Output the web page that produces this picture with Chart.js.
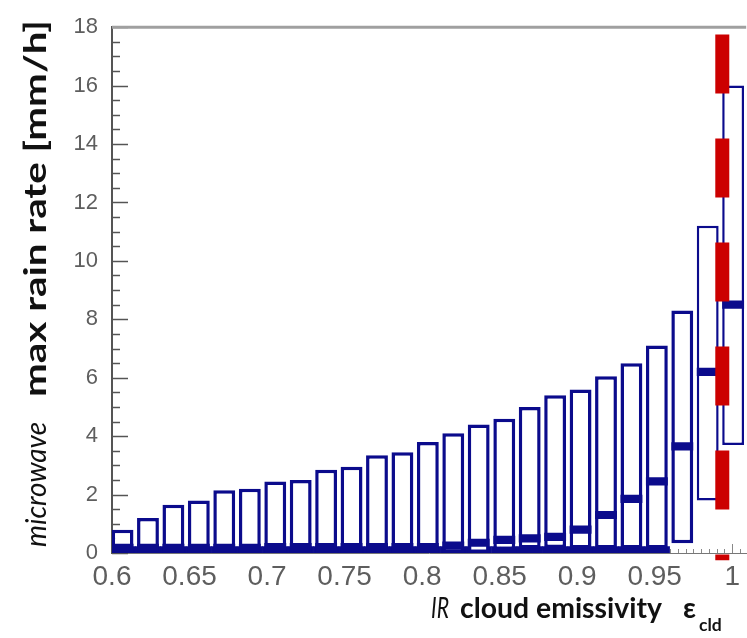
<!DOCTYPE html>
<html>
<head>
<meta charset="utf-8">
<title>max rain rate vs IR cloud emissivity</title>
<script src="https://cdn.jsdelivr.net/npm/chart.js@4.4.1/dist/chart.umd.min.js"></script>
<style>
html,body{margin:0;padding:0;background:#ffffff;overflow:hidden;}
#wrap{position:relative;width:747px;height:638px;}
</style>
</head>
<body>
<div id="wrap"><canvas id="c" width="747" height="638"></canvas></div>
<script>
// ---------- values ----------
const binCenters = [0.6068,0.6232,0.6396,0.6560,0.6724,0.6889,0.7053,0.7217,0.7381,0.7545,
                    0.7709,0.7873,0.8037,0.8201,0.8365,0.8530,0.8694,0.8858,0.9022,0.9186,
                    0.9350,0.9514,0.9678,0.9842,1.0006];
const q1Values     = [0,0,0,0,0,0,0,0,0,0, 0,0,0,0,0,0.10,0.15,0.17,0.15,0.15, 0.15,0.15,0.33,1.8,3.7];
const medianValues = [0.18,0.18,0.18,0.18,0.18,0.18,0.2,0.2,0.2,0.2,
                      0.2,0.2,0.2,0.25,0.35,0.45,0.50,0.55,0.80,1.30,
                      1.85,2.45,3.65,6.2,8.5];
const q3Values     = [0.8,1.2,1.65,1.8,2.15,2.2,2.45,2.5,2.85,2.95,
                      3.35,3.45,3.8,4.1,4.4,4.6,5.0,5.4,5.6,6.05,
                      6.5,7.1,8.3,11.2,16.0];
const lowerWhisker = [0,0,0,0,0,0,0,0,0,0, 0,0,0,0,0,0,0,0,0,0, 0,0,null,null,null];
const xTickValues = [0.6,0.65,0.7,0.75,0.8,0.85,0.9,0.95,1];
const yTickValues = [0,2,4,6,8,10,12,14,16,18];
const thresholdX = 0.9936;
const thresholdSpan = [17.75, -0.25];
const xTitleParts = {italic:'IR', bold:'cloud emissivity', symbol:'ε', sub:'cld'};
const yTitleParts = {italic:'microwave', bold:'max rain rate [mm/h]'};

// ---------- build library tables ----------
const NAVY = '#0b0b8c';
const boxData = binCenters.map((x,i)=>({x:x, y:[q1Values[i], q3Values[i]]}));
const medianHalf = 0.14;
const medianData = binCenters.map((x,i)=>({x:x, y:[Math.max(0, medianValues[i]-medianHalf), medianValues[i]+medianHalf]}));
const capData = [];
binCenters.forEach((x,i)=>{ if(lowerWhisker[i]!==null) capData.push({x:x, y:[lowerWhisker[i], lowerWhisker[i]+0.22]}); });
const thresholdData = thresholdSpan.map(v=>({x:thresholdX, y:v}));

const axisDecor = {
  id:'axisDecor',
  beforeDatasetsDraw(chart){
    const {ctx, chartArea:a, scales:{x,y}} = chart;
    ctx.save();
    ctx.strokeStyle = '#555'; ctx.lineWidth = 1.5;
    for(let i=0;i<=36;i++){
      const py = Math.round(y.getPixelForValue(i*0.5))+0.5;
      const len = (i%4===0) ? 16 : 8;
      ctx.beginPath(); ctx.moveTo(a.left, py); ctx.lineTo(a.left+len, py); ctx.stroke();
    }
    ctx.strokeStyle = '#888'; ctx.lineWidth = 1;
    for(let i=0;i<=81;i++){
      const v = 0.6 + i*0.005;
      if(v > x.max) break;
      const px = Math.round(x.getPixelForValue(v))+0.5;
      const len = (i%10===0) ? 9 : 4;
      ctx.beginPath(); ctx.moveTo(px, a.bottom); ctx.lineTo(px, a.bottom-len); ctx.stroke();
    }
    ctx.strokeStyle = '#a0a0a0'; ctx.lineWidth = 3;
    ctx.beginPath(); ctx.moveTo(a.left, a.top); ctx.lineTo(a.right, a.top); ctx.stroke();
    ctx.restore();
  }
};

const titles = {
  id:'titles',
  afterDraw(chart){
    const ctx = chart.ctx;
    const fam = 'Lato, "Open Sans", "DejaVu Sans", sans-serif';
    ctx.save();
    ctx.fillStyle = '#111';
    ctx.textBaseline = 'alphabetic';
    ctx.textAlign = 'left';
    ctx.font = 'bold 30px ' + fam;
    const bw = ctx.measureText(xTitleParts.bold).width;
    const fs = 30*202/bw;
    ctx.font = 'italic ' + fs + 'px ' + fam;
    let w = ctx.measureText(xTitleParts.italic).width;
    ctx.save(); ctx.translate(431, 618); ctx.scale(18/w, 1); ctx.fillText(xTitleParts.italic, 0, 0); ctx.restore();
    ctx.font = 'bold ' + fs + 'px ' + fam;
    ctx.fillText(xTitleParts.bold, 460, 618);
    ctx.fillText(xTitleParts.symbol, 683, 618);
    ctx.font = 'bold ' + (fs*0.62) + 'px ' + fam;
    ctx.fillText(xTitleParts.sub, 699, 631);

    ctx.translate(46, 547);
    ctx.rotate(-Math.PI/2);
    ctx.font = 'italic ' + fs + 'px ' + fam;
    w = ctx.measureText(yTitleParts.italic).width;
    ctx.save(); ctx.scale(125/w, 1); ctx.fillText(yTitleParts.italic, 0, 0); ctx.restore();
    ctx.font = 'bold ' + (fs*1.05) + 'px ' + fam;
    w = ctx.measureText(yTitleParts.bold).width;
    ctx.save(); ctx.translate(150, 0); ctx.scale(377/w, 1); ctx.fillText(yTitleParts.bold, 0, 0); ctx.restore();
    ctx.restore();
  }
};

const tickFont = '"Liberation Sans", Arial, sans-serif';

new Chart(document.getElementById('c'), {
  type: 'bar',
  data: {
    datasets: [
      { type:'line', label:'threshold', data: thresholdData, borderColor:'#cc0000', borderWidth:14,
        borderDash:[59,45], pointRadius:0, clip:false, order:0, fill:false, tension:0 },
      { label:'median', data: medianData, backgroundColor: NAVY, borderWidth:0,
        barPercentage:0.86, categoryPercentage:1, grouped:false, order:1 },
      { label:'box', data: boxData, backgroundColor:'#ffffff', borderColor: NAVY,
        borderWidth: binCenters.map((x,i)=> i>=23 ? 2.5 : 3.5), borderSkipped:false,
        barPercentage:0.86, categoryPercentage:1, grouped:false, order:2 },
      { label:'lower whisker', data: capData, backgroundColor: NAVY, borderWidth:0,
        barPercentage:1, categoryPercentage:1, grouped:false, order:3 }
    ]
  },
  options: {
    responsive:false,
    animation:false,
    devicePixelRatio:1,
    layout:{padding:{top:20,left:0,right:0,bottom:0}},
    plugins:{legend:{display:false}, tooltip:{enabled:false}, title:{display:false}},
    scales:{
      x:{
        type:'linear', min:0.6, max:1.009, offset:false,
        grid:{display:false, drawTicks:false, offset:false},
        border:{display:true, color:'#777', width:1},
        afterBuildTicks: s=>{ s.ticks = xTickValues.map(v=>({value:v})); },
        ticks:{font:{family:tickFont, size:28}, color:'#5e5e5e', padding:7, maxRotation:0, autoSkip:false,
               callback: v => String(+Number(v).toFixed(2))},
        afterFit: s=>{ s.height = 85; }
      },
      y:{
        type:'linear', min:0, max:18,
        grid:{display:false, drawTicks:false},
        border:{display:true, color:'#555', width:2},
        afterBuildTicks: s=>{ s.ticks = yTickValues.map(v=>({value:v})); },
        ticks:{font:{family:tickFont, size:22}, color:'#5e5e5e', padding:14, autoSkip:false},
        afterFit: s=>{ s.width = 112; }
      }
    }
  },
  plugins:[axisDecor, titles]
});
</script>
</body>
</html>
